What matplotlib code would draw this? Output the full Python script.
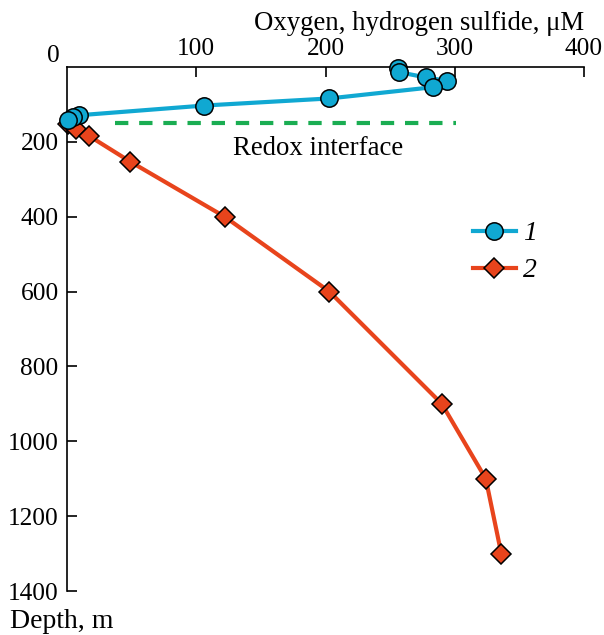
import matplotlib
matplotlib.use("Agg")
import matplotlib.pyplot as plt
from matplotlib.lines import Line2D

plt.rcParams['font.family'] = ['Liberation Serif', 'DejaVu Serif']
plt.rcParams['mathtext.fontset'] = 'stix'

# Oxygen (series 1)
oxy_conc = [256, 257, 278, 294, 283, 203, 106, 9, 5, 1]
oxy_depth = [4, 14, 28, 37, 54, 84, 103, 129, 134, 142]
# Hydrogen sulfide (series 2)
h2s_conc = [1, 7, 17, 49, 122, 203, 290, 324, 336]
h2s_depth = [152, 166, 184, 253, 400, 600, 900, 1100, 1300]
# Redox interface
redox_x = [37, 301]
redox_depth = [150, 150]

xticks = [100, 200, 300, 400]
yticks = [200, 400, 600, 800, 1000, 1200, 1400]

blue = '#10a8d2'
red = '#e8441c'
green = '#1aad52'

fig = plt.figure(figsize=(6.04, 6.35), dpi=100)
ax = fig.add_axes([67/604, 1-591/635, (584-67)/604, (591-67)/635])

ax.plot(redox_x, redox_depth, color=green, lw=3, dashes=(3.2, 2.6), zorder=1)
ax.plot(oxy_conc, oxy_depth, color=blue, lw=3, marker='o', ms=12.5,
        mfc=blue, mec='black', mew=1.1, zorder=3, clip_on=False)
ax.plot(h2s_conc, h2s_depth, color=red, lw=3, marker='D', ms=10.2,
        mfc=red, mec='black', mew=1.1, zorder=2, clip_on=False)

ax.set_xlim(0, 400)
ax.set_ylim(1400, 0)
ax.xaxis.tick_top()
ax.set_xticks(xticks)
ax.set_yticks(yticks)
ax.tick_params(direction='in', length=7, width=1.2, labelsize=18.3, pad=5)
ax.tick_params(axis='y', pad=6)
for s in ['right', 'bottom']:
    ax.spines[s].set_visible(False)
for s in ['left', 'top']:
    ax.spines[s].set_linewidth(1.2)

fig.text(53/604, 1-56/635, '0', fontsize=18.3, ha='center', va='center')
fig.text(584/604, 1-23/635, 'Oxygen, hydrogen sulfide, μM', fontsize=19.3,
         ha='right', va='center')
fig.text(10/604, 1-621/635, 'Depth, m', fontsize=20, ha='left', va='center')
ax.text(194, 219, 'Redox interface', fontsize=19.3, ha='center', va='center')

handles = [
    Line2D([], [], color=blue, lw=3, marker='o', ms=12.5, mfc=blue, mec='black', mew=1.1),
    Line2D([], [], color=red, lw=3, marker='D', ms=10.2, mfc=red, mec='black', mew=1.1),
]
leg = ax.legend(handles, ['1', '2'], loc='upper left', bbox_to_anchor=(0.758, 0.733),
                frameon=False, handlelength=1.55, handletextpad=0.25, labelspacing=0.42,
                prop={'size': 20, 'style': 'italic'}, borderpad=0)

fig.savefig('out.png', dpi=100)
